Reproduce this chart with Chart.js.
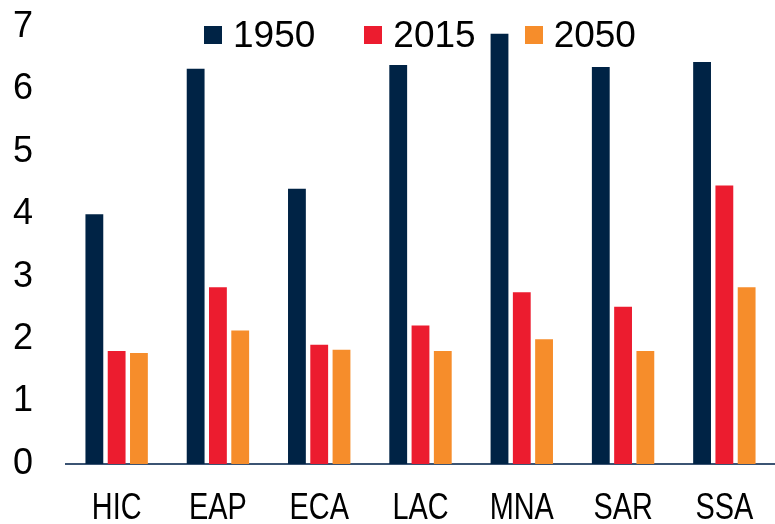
<!DOCTYPE html>
<html>
<head>
<meta charset="utf-8">
<script src="https://cdn.jsdelivr.net/npm/chart.js@4"></script>
<style>
  html, body { margin: 0; padding: 0; background: #fff; }
  #wrap { position: relative; width: 775px; height: 524px; }
  #legend { position: absolute; left: 204px; top: 13px; display: flex;
            font-family: "Liberation Sans", Arial, sans-serif;
            font-size: 37px; color: #000; line-height: 44px; }
  .item { display: flex; align-items: center; margin-right: 49px; }
  .box { width: 18px; height: 18px; margin-right: 11px; }
</style>
</head>
<body>
<div id="wrap">
  <canvas id="myChart" width="775" height="524"></canvas>
  <div id="legend"></div>
</div>
<script>
const ctx = document.getElementById('myChart').getContext('2d');

// Regions and fertility values
const regions = ['HIC', 'EAP', 'ECA', 'LAC', 'MNA', 'SAR', 'SSA'];
const years = ['1950', '2015', '2050'];
const values1950 = [4.00, 6.33, 4.41, 6.39, 6.89, 6.36, 6.44];
const values2015 = [1.81, 2.83, 1.91, 2.22, 2.75, 2.52, 4.46];
const values2050 = [1.78, 2.14, 1.83, 1.81, 2.00, 1.81, 2.83];
const yTicks = [0, 1, 2, 3, 4, 5, 6, 7];

const colors = ['#002345', '#EC1C2F', '#F68D2B'];
const fontFamily = '"Liberation Sans", Arial, sans-serif';

const seriesData = [values1950, values2015, values2050];

// The category labels in the original are drawn condensed, so draw them squeezed
const narrowXLabels = {
    id: 'narrowXLabels',
    afterDraw(chart) {
        const xScale = chart.scales.x;
        const c = chart.ctx;
        c.save();
        c.fillStyle = '#000';
        c.font = `37px ${fontFamily}`;
        c.textAlign = 'center';
        c.textBaseline = 'middle';
        regions.forEach((label, i) => {
            const x = xScale.getPixelForTick(i);
            c.save();
            c.translate(x, xScale.top + 45);
            c.scale(0.78, 1);
            c.fillText(label, 0, 0);
            c.restore();
        });
        c.restore();
    }
};

const myChart = new Chart(ctx, {
    type: 'bar',
    data: {
        labels: regions,
        datasets: years.map((y, i) => ({
            label: y,
            data: seriesData[i],
            backgroundColor: colors[i],
            barPercentage: 0.8,
            categoryPercentage: 0.66,
        })),
    },
    options: {
        responsive: false,
        animation: false,
        layout: {
            padding: { top: 27, left: 13, right: 0, bottom: 0 }
        },
        scales: {
            x: {
                grid: { display: false },
                border: { display: true, color: '#3B5473', width: 2 },
                ticks: { display: false },
                afterFit: (scale) => { scale.height = 60; }
            },
            y: {
                min: 0,
                max: 7,
                grid: { display: false },
                border: { display: false },
                afterBuildTicks: (scale) => { scale.ticks = yTicks.map(v => ({ value: v })); },
                ticks: {
                    color: '#000',
                    font: { family: fontFamily, size: 36 },
                    padding: 0,
                    crossAlign: 'far',
                },
                afterFit: (scale) => { scale.width = 53; }
            }
        },
        plugins: {
            legend: { display: false },
            tooltip: { enabled: false }
        }
    },
    plugins: [narrowXLabels]
});

// Build the legend as HTML so it can sit over the plot area
const legendEl = document.getElementById('legend');
years.forEach((y, i) => {
    const item = document.createElement('div');
    item.className = 'item';
    item.innerHTML = `<span class="box" style="background:${colors[i]}"></span><span>${y}</span>`;
    legendEl.appendChild(item);
});
</script>
</body>
</html>
